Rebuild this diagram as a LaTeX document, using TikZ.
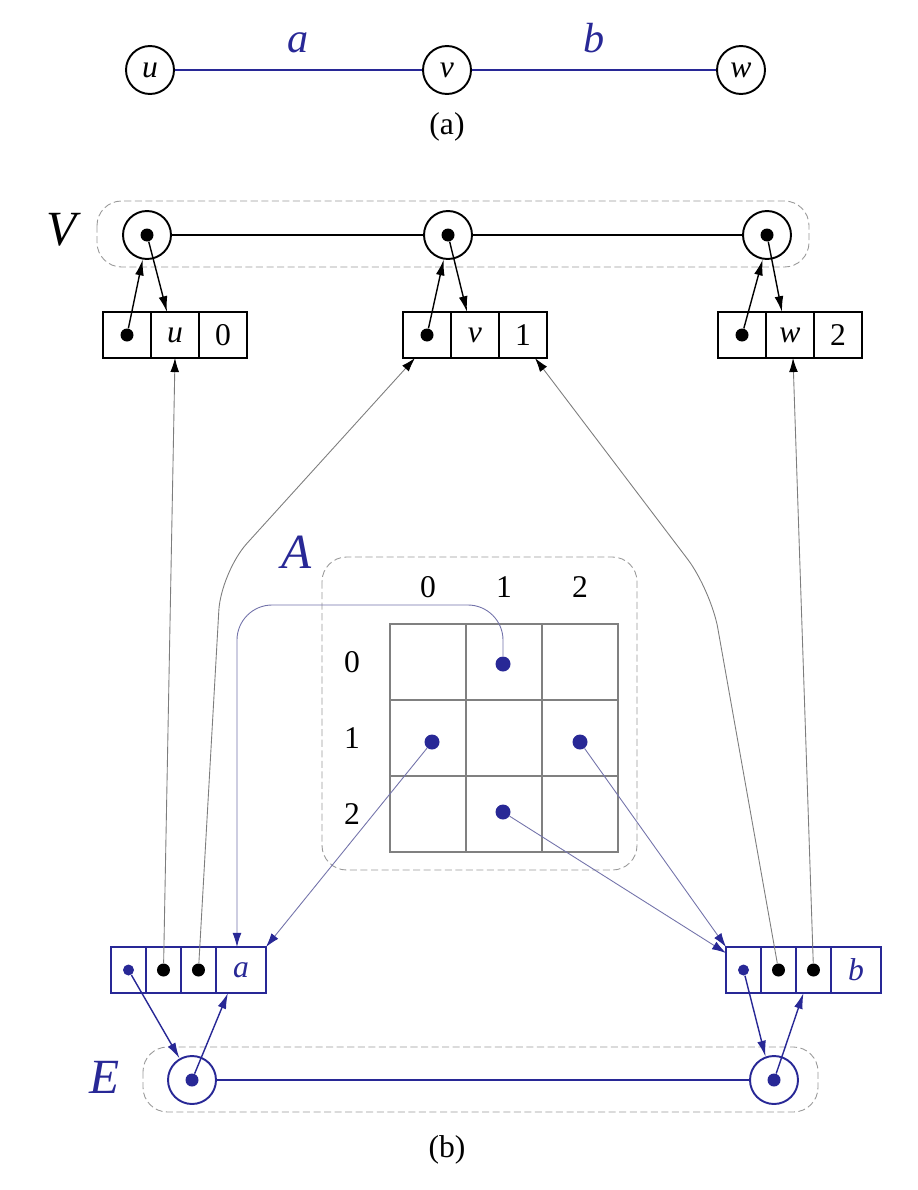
\documentclass[tikz,border=0pt]{standalone}
\usepackage{fontspec}
\setmainfont{Liberation Serif}
\usetikzlibrary{arrows.meta,positioning}
\definecolor{edgeblue}{RGB}{40,40,150}
\definecolor{linkgray}{RGB}{125,125,125}
\definecolor{linkblue}{RGB}{115,115,170}

\begin{document}
\begin{tikzpicture}[
    x=0.02cm, y=-0.02cm,
    every node/.style={font=\fontsize{18}{20}\selectfont},
    vert/.style={circle, draw, line width=1.1pt, minimum size=0.96cm, inner sep=0pt},
    evert/.style={vert, draw=edgeblue},
    dotnode/.style={circle, fill, inner sep=0pt, minimum size=0.26cm},
    bdot/.style={dotnode, fill=edgeblue},
    cell/.style={draw, line width=1pt, minimum width=0.96cm, minimum height=0.92cm, inner sep=0pt, outer sep=0pt},
    ecell/.style={cell, draw=edgeblue, minimum width=0.7cm},
    mcell/.style={draw=gray, line width=0.6pt, minimum size=1.52cm, inner sep=0pt, outer sep=0pt},
    group/.style={draw=gray!80, dash pattern=on 4pt off 2pt, rounded corners=14pt, line width=0.5pt},
    setlabel/.style={font=\fontsize{28}{30}\selectfont\itshape},
    elabel/.style={font=\fontsize{24}{26}\selectfont\itshape, text=edgeblue},
    ptr/.style={-{Latex[length=9pt,width=5pt]}, line width=0.8pt},
    eptr/.style={ptr, draw=edgeblue},
    link/.style={-{Latex[length=8pt,width=5pt,color=black]}, draw=linkgray, line width=0.5pt},
    blink/.style={-{Latex[length=8pt,width=5pt,color=edgeblue]}, draw=linkblue, line width=0.5pt}
]
\fill[white] (0,0) rectangle (918,1190);
\useasboundingbox (0,0) rectangle (918,1190);

% (a) the graph
\node[vert] (u) at (150,70) {\textit{u}};
\node[vert] (v) at (447,70) {\textit{v}};
\node[vert] (w) at (741,70) {\textit{w}};
\draw[edgeblue, line width=0.8pt] (u) -- (v) node[midway, yshift=0.36cm, anchor=base, elabel] {a};
\draw[edgeblue, line width=0.8pt] (v) -- (w) node[midway, yshift=0.36cm, anchor=base, elabel] {b};
\node (capa) at (447,127) {(a)};

% (b) vertex list V
\node[setlabel] (Vlab) at (62,230) {V};
\draw[group] (97,201) rectangle (809,267);
\node[vert] (vu) at (147,235) {};
\node[vert] (vv) at (448,235) {};
\node[vert] (vw) at (767,235) {};
\node[dotnode] (vud) at (vu) {};
\node[dotnode] (vvd) at (vv) {};
\node[dotnode] (vwd) at (vw) {};
\draw[line width=1.1pt] (vu) -- (vv);
\draw[line width=1.1pt] (vv) -- (vw);

% vertex records
\node[cell] (ub1) at (127,335) {};
\node[cell, right=0pt of ub1] (ub2) {\textit{u}};
\node[cell, right=0pt of ub2] (ub3) {0};
\node[dotnode] (ubd) at (ub1) {};
\node[cell] (vb1) at (427,335) {};
\node[cell, right=0pt of vb1] (vb2) {\textit{v}};
\node[cell, right=0pt of vb2] (vb3) {1};
\node[dotnode] (vbd) at (vb1) {};
\node[cell] (wb1) at (742,335) {};
\node[cell, right=0pt of wb1] (wb2) {\textit{w}};
\node[cell, right=0pt of wb2] (wb3) {2};
\node[dotnode] (wbd) at (wb1) {};

\draw[ptr] (ubd) -- (vu.-100);
\draw[ptr] (vud) -- ([xshift=-0.16cm]ub2.north);
\draw[ptr] (vbd) -- (vv.-100);
\draw[ptr] (vvd) -- ([xshift=-0.16cm]vb2.north);
\draw[ptr] (wbd) -- (vw.-100);
\draw[ptr] (vwd) -- ([xshift=-0.16cm]wb2.north);

% adjacency matrix A
\node[setlabel, text=edgeblue] (Alab) at (297,552) {A};
\draw[group] (322,557) rectangle (637,870);
\foreach \r in {0,1,2}
  \foreach \c in {0,1,2}
    \node[mcell] (m\r\c) at ({428+76*\c},{662+76*\r}) {};
\foreach \i in {0,1,2} {
  \node (col\i) at ({428+76*\i},587) {\i};
  \node (row\i) at (352,{662+76*\i}) {\i};
}
\node[bdot, minimum size=0.3cm] (d01) at (503,664) {};
\node[bdot, minimum size=0.3cm] (d10) at (432,742) {};
\node[bdot, minimum size=0.3cm] (d12) at (580,742) {};
\node[bdot, minimum size=0.3cm] (d21) at (503,812) {};

% edge records
\node[ecell] (a1) at (128.5,970) {};
\node[ecell, right=0pt of a1] (a2) {};
\node[ecell, right=0pt of a2] (a3) {};
\node[ecell, right=0pt of a3, minimum width=1cm, text=edgeblue] (a4) {\textit{a}};
\node[bdot, minimum size=0.22cm] (ad1) at (a1) {};
\node[dotnode] (ad2) at (a2) {};
\node[dotnode] (ad3) at (a3) {};
\node[ecell] (b1) at (743.5,970) {};
\node[ecell, right=0pt of b1] (b2) {};
\node[ecell, right=0pt of b2] (b3) {};
\node[ecell, right=0pt of b3, minimum width=1cm, text=edgeblue] (b4) {\textit{b}};
\node[bdot, minimum size=0.22cm] (bd1) at (b1) {};
\node[dotnode] (bd2) at (b2) {};
\node[dotnode] (bd3) at (b3) {};

% edge records to vertex records
\coordinate (bendL) at (221,572);
\coordinate (bendR) at (711,590);
\draw[link] (ad2) -- (ub2.south);
\draw[link, rounded corners=22pt] (ad3) -- (bendL) -- ([xshift=-0.24cm]vb1.south);
\draw[link, rounded corners=22pt] (bd2) -- (bendR) -- ([xshift=0.24cm]vb3.south);
\draw[link] (bd3) -- ([xshift=0.06cm]wb2.south);

% matrix entries to edge records
\coordinate (bendT) at (237,605);
\draw[blink, rounded corners=20pt] (d01) |- (bendT) -- ([xshift=-0.08cm]a4.north);
\draw[blink] (d10) -- (a4.north east);
\draw[blink] (d12) -- (b1.north west);
\draw[blink] (d21) -- ([yshift=-0.12cm]b1.north west);

% edge list E
\node[setlabel, text=edgeblue] (Elab) at (105,1077) {E};
\draw[group] (143,1047) rectangle (818,1112);
\node[evert] (ea) at (192,1080) {};
\node[evert] (eb) at (774,1080) {};
\node[bdot] (ead) at (ea) {};
\node[bdot] (ebd) at (eb) {};
\draw[edgeblue, line width=1.2pt] (ea) -- (eb);
\draw[eptr] (ad1) -- (ea.120);
\draw[eptr] (ead) -- ([xshift=0.24cm]a4.south west);
\draw[eptr] (bd1) -- (eb.110);
\draw[eptr] (ebd) -- ([xshift=-0.2cm]b3.south);

\node (capb) at (447,1150) {(b)};
\end{tikzpicture}
\end{document}
